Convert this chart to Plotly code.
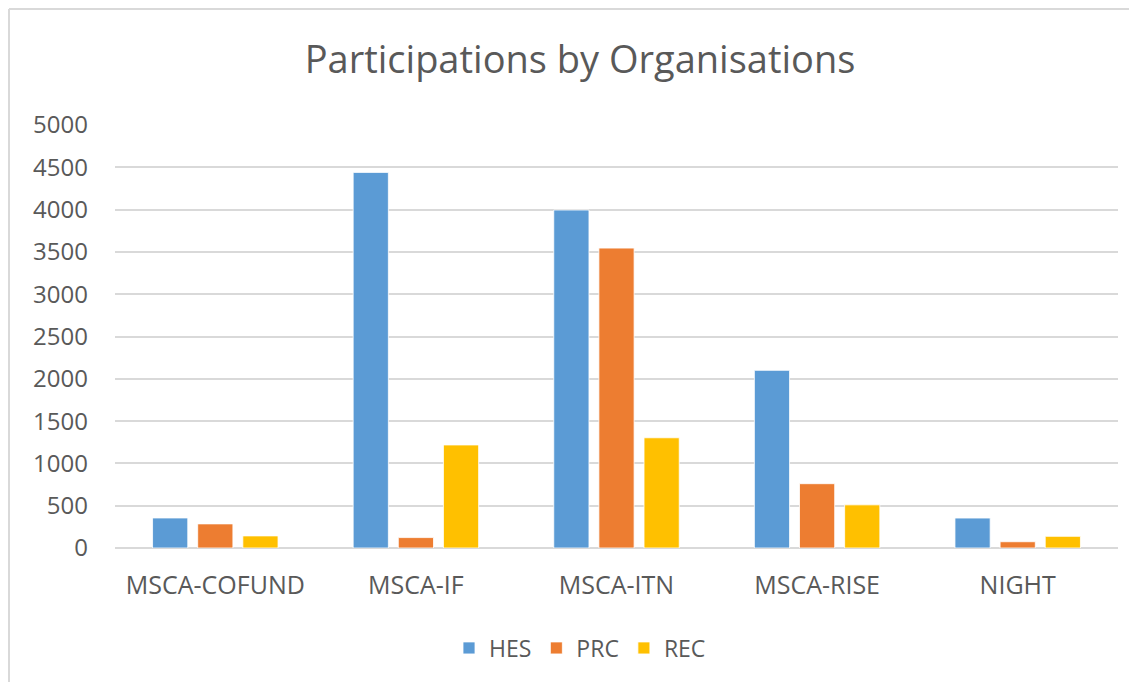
import plotly.graph_objects as go

categories = ["MSCA-COFUND", "MSCA-IF", "MSCA-ITN", "MSCA-RISE", "NIGHT"]
hes = [355, 4440, 3995, 2100, 354]
prc = [285, 123, 3545, 760, 74]
rec = [143, 1218, 1303, 510, 138]
series_names = ["HES", "PRC", "REC"]
colors = ["#5B9BD5", "#ED7D31", "#FFC000"]
y_ticks = [0, 500, 1000, 1500, 2000, 2500, 3000, 3500, 4000, 4500, 5000]

FONT = "'Open Sans', Lato, sans-serif"
GRAY = "#595959"
OFF = 8  # page body margin offset

W, H = 1137 - 2 * OFF, 690 - 2 * OFF
L, R, T, B = 115 - OFF, W - (1118 - OFF), 125 - OFF, H - (548 - OFF)
PW, PH = W - L - R, H - T - B

fig = go.Figure()
for name, vals, col in zip(series_names, [hes, prc, rec], colors):
    fig.add_trace(go.Bar(x=categories, y=vals, name=name,
                         marker=dict(color=col, line=dict(color="white", width=0.8))))

bx0 = (1 - L) / PW
bx1 = (W - L) / PW
by0 = -B / PH
by1 = (H - B - 1) / PH
fig.update_layout(
    width=W, height=H,
    paper_bgcolor="white", plot_bgcolor="white",
    margin=dict(l=L, r=R, t=T, b=B),
    barmode="group", bargap=0.325, bargroupgap=0.22,
    font=dict(family=FONT, color=GRAY, size=24),
    title=dict(text="Participations by Organisations", x=(580 - OFF) / W, xanchor="center",
               y=1 - (60 - OFF) / H, yanchor="middle", xref="container", yref="container",
               font=dict(size=38, color=GRAY, family=FONT)),
    xaxis=dict(showgrid=False, showline=False, ticks="", tickfont=dict(size=25, color=GRAY),
               ticklabelstandoff=20),
    yaxis=dict(range=[0, 5000], tickvals=y_ticks, showgrid=True, gridcolor="#D9D9D9",
               gridwidth=1.6, zeroline=True, zerolinecolor="#D9D9D9", zerolinewidth=1.6,
               showline=False, ticks="", tickfont=dict(size=24, color=GRAY),
               ticklabelstandoff=26),
    legend=dict(orientation="h", x=(580 - OFF) / W, xanchor="center", xref="container",
                y=1 - (648 - OFF) / H, yanchor="middle", yref="container",
                font=dict(size=23, color=GRAY), itemwidth=30, traceorder="normal"),
    shapes=[
        dict(type="line", xref="paper", yref="paper", x0=bx0, x1=bx0, y0=by0, y1=by1,
             line=dict(color="#D9D9D9", width=2), layer="below"),
        dict(type="line", xref="paper", yref="paper", x0=bx0, x1=bx1, y0=by1, y1=by1,
             line=dict(color="#D9D9D9", width=2), layer="below"),
    ],
)

fig.write_html("out.html")
